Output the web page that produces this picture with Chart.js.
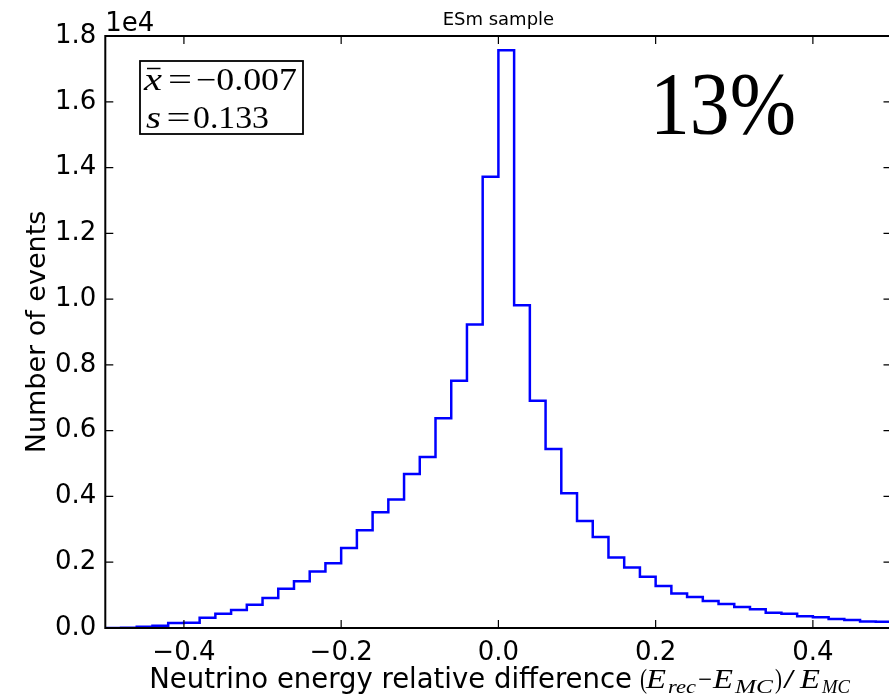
<!DOCTYPE html>
<html><head><meta charset="utf-8">
<script src="https://cdn.jsdelivr.net/npm/chart.js@4.4.1/dist/chart.umd.min.js"></script>
<style>
html,body{margin:0;padding:0;overflow:hidden;background:#fff;width:889px;height:699px}
#wrap{position:absolute;left:0;top:0;width:896px;height:699px}
</style>
</head><body><div id="wrap"><canvas id="c" width="896" height="699"></canvas></div>
<script>
// ---- data ----
const binLeftEdges = [-0.50,-0.48,-0.46,-0.44,-0.42,-0.40,-0.38,-0.36,-0.34,-0.32,
  -0.30,-0.28,-0.26,-0.24,-0.22,-0.20,-0.18,-0.16,-0.14,-0.12,
  -0.10,-0.08,-0.06,-0.04,-0.02,0.00,0.02,0.04,0.06,0.08,
  0.10,0.12,0.14,0.16,0.18,0.20,0.22,0.24,0.26,0.28,
  0.30,0.32,0.34,0.36,0.38,0.40,0.42,0.44,0.46,0.48];
const lastBinRightEdge = 0.50;
const eventCounts = [0,10,40,70,150,160,310,430,550,710,
  910,1190,1420,1720,1970,2430,2970,3520,3910,4680,
  5200,6380,7520,9230,13720,17570,9810,6910,5440,4100,
  3250,2770,2140,1840,1560,1280,1050,940,820,730,
  640,570,460,430,360,330,270,240,200,190];
const xTickValues = [-0.4,-0.2,0.0,0.2,0.4];
const xTickLabels = ['\u22120.4','\u22120.2','0.0','0.2','0.4'];
const yTickValues = [0,2000,4000,6000,8000,10000,12000,14000,16000,18000];
const yTickLabels = ['0.0','0.2','0.4','0.6','0.8','1.0','1.2','1.4','1.6','1.8'];
const yOffsetText = '1e4';
const titleText = 'ESm sample';
const yAxisTitle = 'Number of events';
const xAxisTitle = 'Neutrino energy relative difference';
const statMean = '\u22120.007';
const statStd = '0.133';
const resolutionText = '13%';

const points = [{x: binLeftEdges[0], y: 0}]
  .concat(binLeftEdges.map((x, i) => ({x: x, y: eventCounts[i]})))
  .concat([{x: lastBinRightEdge, y: eventCounts[eventCounts.length - 1]}, {x: lastBinRightEdge, y: 0}]);

const SANS = '"DejaVu Sans", sans-serif';
const SERIF = '"Liberation Serif", "DejaVu Serif", serif';

function fitText(ctx, txt, font, x, y, w) {
  ctx.save();
  ctx.font = font;
  ctx.textAlign = 'left';
  ctx.textBaseline = 'alphabetic';
  const m = ctx.measureText(txt).width;
  const s = w ? w / m : 1;
  ctx.translate(x, y);
  ctx.scale(s, 1);
  ctx.fillText(txt, 0, 0);
  ctx.restore();
}

const decor = {
  id: 'decor',
  afterDraw(chart) {
    const ctx = chart.ctx;
    const a = chart.chartArea;
    const xs = chart.scales.x, ys = chart.scales.y;
    ctx.save();
    ctx.fillStyle = '#000';
    ctx.strokeStyle = '#000';
    // frame
    ctx.lineWidth = 2;
    ctx.strokeRect(a.left, a.top, a.right - a.left, a.bottom - a.top);
    // inward ticks
    ctx.lineWidth = 1.2;
    const tl = 8;
    ctx.beginPath();
    xTickValues.forEach(v => {
      const px = xs.getPixelForValue(v);
      ctx.moveTo(px, a.bottom); ctx.lineTo(px, a.bottom - tl);
      ctx.moveTo(px, a.top); ctx.lineTo(px, a.top + tl);
    });
    yTickValues.forEach(v => {
      const py = ys.getPixelForValue(v);
      ctx.moveTo(a.left, py); ctx.lineTo(a.left + tl, py);
      ctx.moveTo(a.right, py); ctx.lineTo(a.right - tl, py);
    });
    ctx.stroke();
    // title
    ctx.font = '18px ' + SANS;
    ctx.textAlign = 'center';
    ctx.textBaseline = 'alphabetic';
    ctx.fillText(titleText, (a.left + a.right) / 2, 25);
    // offset text
    ctx.font = '26px ' + SANS;
    ctx.textAlign = 'left';
    ctx.fillText(yOffsetText, a.left, 31);
    // y axis title
    ctx.save();
    ctx.translate(45, (a.top + a.bottom) / 2);
    ctx.rotate(-Math.PI / 2);
    ctx.font = '27px ' + SANS;
    ctx.textAlign = 'center';
    ctx.fillText(yAxisTitle, 0, 0);
    ctx.restore();
    // x axis title
    ctx.font = '27.5px ' + SANS;
    ctx.textAlign = 'right';
    ctx.fillText(xAxisTitle, 632, 688);
    const mI = 'italic 27px ' + SERIF, mR = '27px ' + SERIF, sI = 'italic 19px ' + SERIF;
    fitText(ctx, '(', mR, 640, 688, 7);
    fitText(ctx, 'E', mI, 646, 688, 20);
    fitText(ctx, 'rec', sI, 668, 693, 28);
    fitText(ctx, '\u2212', mR, 698, 688, 14);
    fitText(ctx, 'E', mI, 713, 688, 20);
    fitText(ctx, 'MC', sI, 735, 693, 38);
    fitText(ctx, ')', mR, 775, 688, 7);
    fitText(ctx, '/', mR, 783, 688, 12);
    fitText(ctx, 'E', mI, 800, 688, 20);
    fitText(ctx, 'MC', sI, 822, 693, 28);
    // stats box
    ctx.lineWidth = 1.8;
    ctx.strokeRect(140, 61, 163, 73);
    const bI = 'italic 31px ' + SERIF, bR = '31px ' + SERIF;
    fitText(ctx, 'x', bI, 144, 90, 18);
    ctx.lineWidth = 1.5;
    ctx.beginPath(); ctx.moveTo(147, 68.5); ctx.lineTo(160.5, 68.5); ctx.stroke();
    fitText(ctx, '=', bR, 168, 90, 24);
    fitText(ctx, statMean, bR, 196, 90, 101);
    fitText(ctx, 's', bI, 146, 128, 15);
    fitText(ctx, '=', bR, 166.5, 128, 24);
    fitText(ctx, statStd, bR, 193, 128, 76);
    // resolution label
    fitText(ctx, resolutionText, '89px ' + SERIF, 650, 133, 146);
    ctx.restore();
  }
};

new Chart(document.getElementById('c').getContext('2d'), {
  type: 'line',
  data: { datasets: [{
    data: points,
    stepped: 'before',
    borderColor: '#0000ff',
    borderWidth: 2.5,
    pointRadius: 0,
    fill: false,
    tension: 0
  }]},
  options: {
    responsive: false,
    animation: false,
    devicePixelRatio: 1,
    layout: { padding: { top: 36, right: 4.5, left: 0, bottom: 0 } },
    plugins: { legend: { display: false }, tooltip: { enabled: false }, title: { display: false } },
    scales: {
      x: {
        type: 'linear', min: -0.5, max: 0.5,
        grid: { display: false, drawTicks: false },
        border: { display: false },
        afterBuildTicks: s => { s.ticks = xTickValues.map(v => ({ value: v })); },
        afterFit: s => { s.height = 71; },
        ticks: {
          autoSkip: false, maxRotation: 0, minRotation: 0, padding: 10, color: '#000',
          font: { family: 'DejaVu Sans', size: 26 },
          callback: v => xTickLabels[xTickValues.indexOf(v)]
        }
      },
      y: {
        type: 'linear', min: 0, max: 18000,
        grid: { display: false, drawTicks: false },
        border: { display: false },
        afterBuildTicks: s => { s.ticks = yTickValues.map(v => ({ value: v })); },
        afterFit: s => { s.width = 105.3; },
        ticks: {
          autoSkip: false, padding: 9, color: '#000',
          font: { family: 'DejaVu Sans', size: 26 },
          callback: v => yTickLabels[yTickValues.indexOf(v)]
        }
      }
    }
  },
  plugins: [decor]
});
</script>
</body></html>
